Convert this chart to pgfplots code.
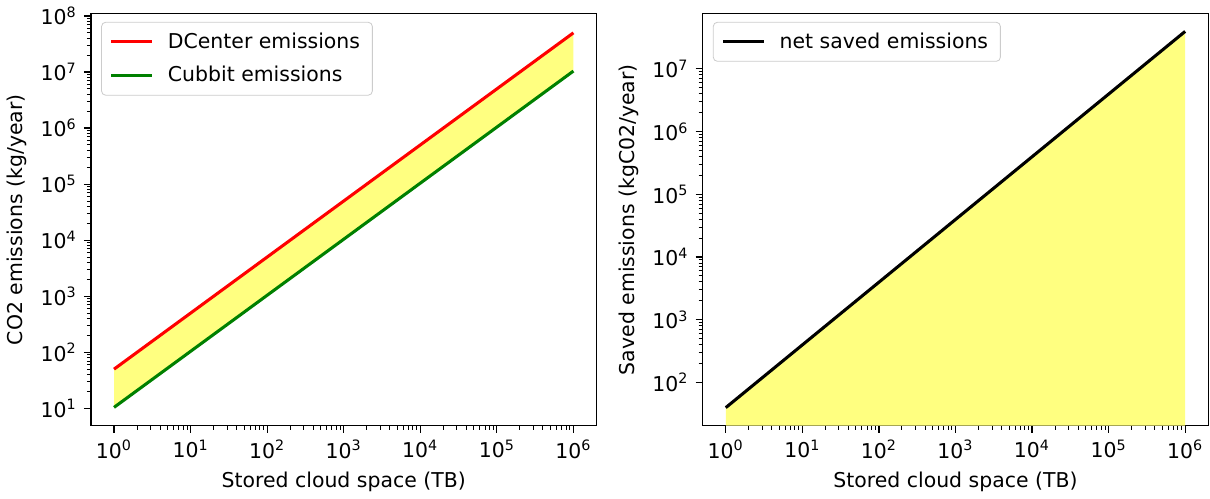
\documentclass[border=0pt]{standalone}
\usepackage{fontspec}
\setmainfont{DejaVu Sans}
\usepackage{pgfplots}
\pgfplotsset{compat=1.18}
\definecolor{fillY}{RGB}{255,255,128}
\definecolor{mplgreen}{RGB}{0,128,0}
\definecolor{mplred}{RGB}{255,0,0}
\pgfplotstableread{
x dc cub
1 50 10.4
1000000 50000000 10400000
}\emis
\pgfplotstableread{
x net
1 39.6
1000000 39600000
}\net
\pgfplotsset{
  mpl/.style={
    scale only axis,
    width=246.5bp, height=201bp,
    axis line style={line width=0.6pt},
    tick align=outside, xtick pos=bottom, ytick pos=left,
    major tick length=3.5pt, minor tick length=2pt,
    every tick/.style={black, line width=0.6pt},
    every minor tick/.style={black, line width=0.45pt},
    xmin=0.5012, xmax=1995262,
    xtick={1,10,100,1000,10000,100000,1000000},
    xticklabels={10\textsuperscript{0},10\textsuperscript{1},10\textsuperscript{2},10\textsuperscript{3},10\textsuperscript{4},10\textsuperscript{5},10\textsuperscript{6}},
    xlabel={Stored cloud space (TB)},
    tick label style={font=\fontsize{10}{12}\selectfont},
    label style={font=\fontsize{10}{12}\selectfont},
    legend style={at={(0.02,0.98)}, anchor=north west, draw=black!20, rounded corners=2pt,
      fill=white, fill opacity=0.8, text opacity=1, font=\fontsize{10}{12}\selectfont,
      inner xsep=4pt, inner ysep=3pt, row sep=3.5pt, column sep=5pt},
    legend cell align=left,
    legend image code/.code={\draw[##1] (0pt,0pt) -- (20pt,0pt);},
  }
}
\begin{document}
\begin{tikzpicture}
\begin{loglogaxis}[mpl, at={(0,0)},
  ymin=4.9, ymax=1.1e8,
  ytick={10,100,1000,10000,100000,1000000,10000000,100000000},
  yticklabels={10\textsuperscript{1},10\textsuperscript{2},10\textsuperscript{3},10\textsuperscript{4},10\textsuperscript{5},10\textsuperscript{6},10\textsuperscript{7},10\textsuperscript{8}},
  ylabel={CO2 emissions (kg/year)},
]
\addplot[fill=fillY, draw=none, forget plot] coordinates {(1,50) (1000000,50000000) (1000000,10400000) (1,10.4)} -- cycle;
\addplot[mplred, line width=1.5pt] table[x=x,y=dc] {\emis};
\addlegendentry{DCenter emissions}
\addplot[mplgreen, line width=1.5pt] table[x=x,y=cub] {\emis};
\addlegendentry{Cubbit emissions}
\end{loglogaxis}
\begin{loglogaxis}[mpl, at={(298.4bp,0)},
  ymin=20.4, ymax=7.6e7,
  ytick={100,1000,10000,100000,1000000,10000000},
  yticklabels={10\textsuperscript{2},10\textsuperscript{3},10\textsuperscript{4},10\textsuperscript{5},10\textsuperscript{6},10\textsuperscript{7}},
  ylabel={Saved emissions (kgC02/year)},
]
\addplot[fill=fillY, draw=none, forget plot] coordinates {(1,39.6) (1000000,39600000) (1000000,20.4) (1,20.4)} -- cycle;
\addplot[black, line width=1.5pt] table[x=x,y=net] {\net};
\addlegendentry{net saved emissions}
\end{loglogaxis}
\end{tikzpicture}
\end{document}
